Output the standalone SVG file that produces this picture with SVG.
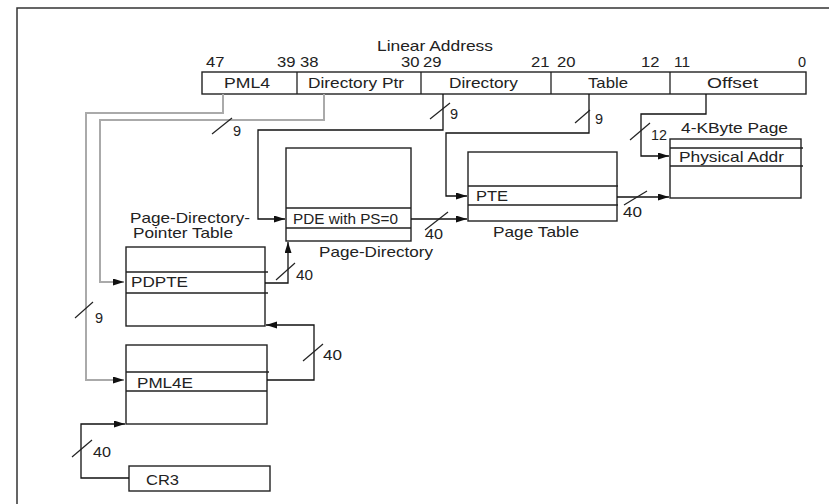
<svg xmlns="http://www.w3.org/2000/svg" width="829" height="504" viewBox="0 0 829 504">
<defs>
<marker id="ah" markerUnits="userSpaceOnUse" markerWidth="12" markerHeight="8" refX="11" refY="3.5" orient="auto">
<path d="M0,0 L11,3.5 L0,7 Z" fill="#111"/>
</marker>
<style>
text{font-family:"Liberation Sans",Arial,sans-serif;font-size:14.5px;fill:#222}
.box{fill:#fff;stroke:#222;stroke-width:1.4}
.row{stroke:#222;stroke-width:1.3;fill:none}
.w{fill:none;stroke:#111;stroke-width:1.3}
.g{fill:none;stroke:#aaa;stroke-width:2}
.sl{stroke:#222;stroke-width:1.2}
</style>
</defs>
<rect width="829" height="504" fill="#fff"/>
<path d="M17,504 V8 H829" fill="none" stroke="#333" stroke-width="1.5"/>

<g id="linear-address">
<text x="377" y="51" textLength="116" lengthAdjust="spacingAndGlyphs">Linear Address</text>
<text x="206" y="67" textLength="18.5" lengthAdjust="spacingAndGlyphs">47</text>
<text x="277" y="67" textLength="18.5" lengthAdjust="spacingAndGlyphs">39</text>
<text x="300" y="67" textLength="18.5" lengthAdjust="spacingAndGlyphs">38</text>
<text x="401" y="67" textLength="18.5" lengthAdjust="spacingAndGlyphs">30</text>
<text x="423" y="67" textLength="18.5" lengthAdjust="spacingAndGlyphs">29</text>
<text x="531" y="67" textLength="18.5" lengthAdjust="spacingAndGlyphs">21</text>
<text x="557" y="67" textLength="18.5" lengthAdjust="spacingAndGlyphs">20</text>
<text x="641" y="67" textLength="18.5" lengthAdjust="spacingAndGlyphs">12</text>
<text x="674" y="67" textLength="16" lengthAdjust="spacingAndGlyphs">11</text>
<text x="798" y="67">0</text>
<rect class="box" x="202" y="72" width="604" height="22"/>
<path class="row" d="M297,72 V94 M421,72 V94 M551,72 V94 M670,72 V94"/>
<text x="224" y="88" textLength="46" lengthAdjust="spacingAndGlyphs">PML4</text>
<text x="308" y="88" textLength="96" lengthAdjust="spacingAndGlyphs">Directory Ptr</text>
<text x="449" y="88" textLength="69" lengthAdjust="spacingAndGlyphs">Directory</text>
<text x="588" y="88" textLength="40" lengthAdjust="spacingAndGlyphs">Table</text>
<text x="707" y="88" textLength="51" lengthAdjust="spacingAndGlyphs">Offset</text>
</g>

<g id="page-4kb">
<text x="681" y="133" textLength="107" lengthAdjust="spacingAndGlyphs">4-KByte Page</text>
<rect class="box" x="670" y="139" width="131" height="59"/>
<path class="row" d="M670,148 H803 M670,166 H803"/>
<text x="679" y="162" textLength="105" lengthAdjust="spacingAndGlyphs">Physical Addr</text>
</g>

<g id="page-table">
<rect class="box" x="468" y="152" width="149" height="69"/>
<path class="row" d="M468,186 H618 M468,205 H618"/>
<text x="476" y="201" textLength="32" lengthAdjust="spacingAndGlyphs">PTE</text>
<text x="493" y="237" textLength="86" lengthAdjust="spacingAndGlyphs">Page Table</text>
</g>

<g id="page-directory">
<rect class="box" x="286" y="148" width="125" height="93"/>
<path class="row" d="M286,208 H411 M286,228 H411"/>
<text x="293" y="224" textLength="105" lengthAdjust="spacingAndGlyphs">PDE with PS=0</text>
<text x="319" y="257" textLength="114" lengthAdjust="spacingAndGlyphs">Page-Directory</text>
</g>

<g id="pdpt">
<text x="130" y="223" textLength="120" lengthAdjust="spacingAndGlyphs">Page-Directory-</text>
<text x="133" y="238" textLength="100" lengthAdjust="spacingAndGlyphs">Pointer Table</text>
<rect class="box" x="126" y="247" width="139" height="79"/>
<path class="row" d="M126,272 H268 M126,293 H268"/>
<text x="131" y="287" textLength="57" lengthAdjust="spacingAndGlyphs">PDPTE</text>
</g>

<g id="pml4-table">
<rect class="box" x="126" y="345" width="141" height="79"/>
<path class="row" d="M126,372 H269 M126,391 H267"/>
<text x="137" y="388" textLength="56" lengthAdjust="spacingAndGlyphs">PML4E</text>
</g>

<g id="cr3">
<rect class="box" x="129" y="466" width="141" height="25"/>
<text x="146" y="485" textLength="33" lengthAdjust="spacingAndGlyphs">CR3</text>
</g>

<g id="connectors">
<path class="g" d="M223,94 V113 H86 V380 H124" marker-end="url(#ah)"/>
<path class="g" d="M324,94 V120 H100 V282 H124" marker-end="url(#ah)"/>
<path class="w" d="M443,94 V130 H258 V219 H285" marker-end="url(#ah)"/>
<path class="w" d="M589,94 V133 H446 V196 H467" marker-end="url(#ah)"/>
<path class="w" d="M706,94 V114 H641 V156 H669" marker-end="url(#ah)"/>
<path class="w" d="M617,197 H669" marker-end="url(#ah)"/>
<path class="w" d="M411,219 H467" marker-end="url(#ah)"/>
<path class="w" d="M265,283 H288 V242" marker-end="url(#ah)"/>
<path class="w" d="M267,380 H314 V325 H266" marker-end="url(#ah)"/>
<path class="w" d="M129,478 H81 V424 H125" marker-end="url(#ah)"/>

<line class="sl" x1="75" y1="318" x2="93" y2="302"/>
<text x="95" y="323">9</text>
<line class="sl" x1="212" y1="134" x2="232" y2="118"/>
<text x="233" y="136">9</text>
<line class="sl" x1="430" y1="119" x2="450" y2="103"/>
<text x="450" y="119">9</text>
<line class="sl" x1="575" y1="123" x2="590" y2="110"/>
<text x="595" y="124">9</text>
<line class="sl" x1="630" y1="140" x2="650" y2="123"/>
<text x="651" y="140" textLength="16" lengthAdjust="spacingAndGlyphs">12</text>
<line class="sl" x1="624" y1="205" x2="647" y2="191"/>
<text x="623" y="217" textLength="19" lengthAdjust="spacingAndGlyphs">40</text>
<line class="sl" x1="425" y1="230" x2="448" y2="212"/>
<text x="425" y="239" textLength="18" lengthAdjust="spacingAndGlyphs">40</text>
<line class="sl" x1="276" y1="280" x2="295" y2="263"/>
<text x="296" y="280" textLength="17" lengthAdjust="spacingAndGlyphs">40</text>
<line class="sl" x1="303" y1="361" x2="323" y2="344"/>
<text x="323" y="360" textLength="19" lengthAdjust="spacingAndGlyphs">40</text>
<line class="sl" x1="72" y1="457" x2="92" y2="440"/>
<text x="93" y="457" textLength="18" lengthAdjust="spacingAndGlyphs">40</text>
</g>
</svg>
